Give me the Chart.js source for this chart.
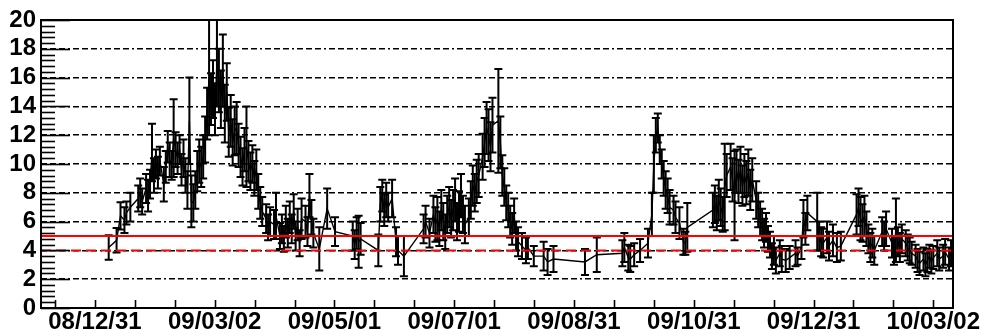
<!DOCTYPE html>
<html>
<head>
<meta charset="utf-8">
<script src="https://cdn.jsdelivr.net/npm/chart.js@4.4.1/dist/chart.umd.min.js"></script>
<style>
  html, body { margin: 0; padding: 0; background: #fff; }
  #wrap { width: 984px; height: 336px; }
</style>
</head>
<body>
<div id="wrap"><canvas id="c" width="984" height="336"></canvas></div>
<script>
// Measurement days, counted from 2008-12-31
const days = [
  7, 11, 13, 15, 16, 18, 22, 23, 24, 26, 27, 28, 29, 30, 31, 32, 33, 35, 36, 37,
  38, 39, 40, 41, 42, 43, 44, 45, 46, 47, 48, 49, 50, 51, 52, 53, 54, 55, 56, 57,
  58, 59, 60, 61, 62, 63, 64, 65, 66, 67, 68, 69, 70, 71, 72, 73, 74, 75, 76, 77,
  78, 79, 80, 81, 82, 83, 84, 85, 87, 88, 89, 91, 92, 94, 95, 96, 97, 98, 99, 100,
  101, 102, 103, 104, 105, 107, 108, 109, 110, 111, 114, 118, 122, 131, 132, 133, 134, 135, 144, 145,
  146, 147, 148, 149, 151, 153, 154, 157, 167, 168, 170, 172, 173, 174, 175, 176, 177, 178, 179, 180,
  181, 182, 183, 184, 185, 186, 187, 188, 190, 191, 192, 193, 194, 195, 197, 198, 199, 200, 201, 202,
  205, 206, 207, 208, 209, 210, 211, 212, 213, 214, 215, 217, 219, 220, 223, 228, 230, 233, 249, 255,
  268, 269, 271, 272, 274, 277, 281, 283, 284, 285, 286, 287, 288, 289, 290, 291, 292, 294, 295, 297,
  299, 300, 301, 314, 315, 316, 317, 318, 319, 320, 321, 323, 324, 325, 326, 327, 328, 329, 330, 331,
  332, 333, 334, 336, 337, 338, 339, 340, 341, 342, 343, 344, 345, 346, 348, 349, 351, 353, 356, 357,
  359, 360, 361, 362, 367, 368, 369, 370, 372, 373, 375, 377, 379, 387, 388, 389, 390, 391, 392, 393,
  394, 395, 396, 400, 401, 402, 405, 406, 407, 408, 409, 410, 412, 413, 414, 415, 417, 418, 419, 421,
  422, 423, 424, 425, 426, 428, 429, 431, 432, 434, 435
];

// Daily rate
const values = [
  4.2, 4.7, 6.4, 6.1, 6.6, 7.0, 7.6, 8.0, 7.4, 8.3, 7.8, 8.6, 10.8, 9.2, 10.0, 9.4, 10.2, 8.6, 9.8, 11.2,
  10.3, 9.9, 11.8, 11.0, 10.4, 11.0, 9.6, 10.4, 9.2, 8.2, 13.0, 7.4, 7.3, 8.2, 9.5, 10.2, 9.8, 10.5, 11.7, 13.5,
  16.0, 14.5, 15.2, 13.8, 17.0, 15.8, 14.5, 16.5, 13.5, 15.0, 12.2, 13.0, 11.5, 12.3, 12.5, 11.3, 10.5, 9.8, 11.0, 11.2,
  10.2, 9.5, 10.0, 9.0, 9.6, 8.1, 7.3, 6.7, 6.2, 5.6, 6.0, 5.8, 6.4, 5.0, 5.5, 4.8, 6.0, 5.2, 6.3, 5.5,
  6.7, 5.0, 5.8, 4.5, 6.2, 6.0, 5.3, 7.8, 6.3, 5.2, 4.1, 6.9, 5.3, 5.0, 4.4, 5.2, 4.6, 4.8, 4.0, 7.2,
  7.8, 6.8, 7.5, 7.0, 7.6, 4.6, 4.0, 3.6, 5.5, 6.0, 5.2, 6.5, 5.8, 6.2, 5.5, 6.8, 6.0, 5.3, 6.5, 7.0,
  6.2, 6.8, 7.5, 6.0, 6.7, 7.8, 6.5, 5.8, 6.3, 7.5, 8.5, 8.0, 8.8, 9.2, 10.5, 11.5, 12.5, 12.0, 11.2, 12.7,
  13.0, 11.5, 9.2, 8.4, 7.3, 6.8, 6.0, 5.5, 6.4, 5.0, 4.6, 4.3, 4.0, 4.2, 3.6, 3.6, 3.2, 3.4, 3.2, 3.7,
  3.8, 4.2, 3.5, 3.4, 3.7, 4.0, 4.5, 6.5, 10.0, 12.0, 12.5, 11.0, 10.0, 9.0, 8.2, 7.8, 7.0, 6.8, 6.3, 5.9,
  4.6, 4.5, 5.6, 6.8, 7.2, 6.6, 7.5, 7.0, 6.5, 8.4, 9.2, 9.8, 8.9, 7.8, 9.5, 8.8, 9.6, 8.5, 9.2, 8.7,
  9.4, 8.2, 8.9, 7.5, 6.8, 6.2, 5.8, 5.2, 5.6, 4.8, 4.4, 3.6, 4.0, 3.3, 3.8, 3.4, 3.3, 3.5, 3.8, 3.6,
  4.2, 6.2, 5.5, 6.6, 6.0, 5.0, 4.6, 4.5, 4.9, 4.3, 4.7, 4.2, 4.3, 6.5, 7.0, 6.2, 5.9, 6.4, 5.5, 4.8,
  4.2, 4.5, 4.0, 5.3, 5.0, 5.5, 4.5, 4.0, 5.4, 4.6, 4.2, 4.8, 4.5, 4.2, 4.0, 3.8, 3.6, 3.3, 3.1, 3.4,
  3.0, 3.3, 3.6, 3.2, 3.5, 3.8, 3.4, 3.6, 3.9, 3.4, 3.8
];

// Statistical uncertainty of each value (symmetric)
const errors = [
  0.85, 0.85, 0.95, 0.9, 0.8, 1.0, 0.9, 1.0, 0.9, 1.0, 1.1, 1.0, 2.0, 1.2, 1.0, 1.1, 1.0, 1.2, 1.1, 1.1,
  1.2, 1.0, 2.7, 1.2, 1.1, 1.0, 1.1, 1.3, 1.2, 1.3, 3.0, 1.8, 1.3, 1.3, 1.4, 1.5, 1.4, 1.5, 1.6, 1.8,
  4.0, 1.8, 2.0, 1.8, 3.0, 2.2, 2.0, 2.5, 2.0, 2.0, 1.7, 1.8, 1.6, 1.7, 1.8, 1.5, 1.4, 1.3, 1.5, 2.8,
  1.4, 1.3, 1.3, 1.2, 1.4, 1.2, 1.1, 1.0, 1.0, 0.9, 1.0, 1.0, 1.6, 0.9, 1.0, 0.9, 1.1, 1.0, 1.1, 1.0,
  1.2, 1.0, 1.1, 0.9, 1.4, 1.1, 1.0, 1.5, 1.2, 1.0, 1.5, 1.4, 1.0, 1.0, 1.0, 1.1, 1.8, 1.1, 1.1, 1.2,
  1.1, 1.1, 1.2, 1.0, 1.3, 1.0, 1.0, 1.4, 1.0, 1.1, 1.0, 1.3, 1.2, 1.5, 1.2, 1.4, 1.3, 1.2, 1.3, 1.4,
  1.3, 1.4, 1.5, 1.3, 1.4, 1.5, 1.3, 1.3, 1.3, 1.3, 1.4, 1.3, 1.5, 1.5, 1.6, 1.7, 1.8, 1.8, 1.7, 1.9,
  3.6, 1.8, 1.4, 1.3, 1.2, 1.2, 1.1, 1.1, 1.2, 1.0, 1.0, 0.9, 0.9, 0.8, 0.7, 1.0, 0.9, 0.9, 0.9, 1.2,
  0.9, 1.0, 0.9, 0.9, 0.8, 0.8, 1.0, 1.5, 2.0, 1.2, 1.0, 1.0, 1.0, 1.2, 1.3, 1.2, 1.2, 1.0, 1.1, 1.1,
  0.9, 0.8, 1.7, 1.2, 1.3, 1.2, 1.4, 1.3, 1.2, 3.0, 1.5, 1.6, 1.5, 3.1, 1.5, 1.5, 1.6, 1.4, 1.5, 1.5,
  1.6, 1.4, 1.5, 1.3, 1.2, 1.2, 1.1, 1.0, 1.0, 0.9, 0.9, 0.9, 1.0, 0.9, 0.9, 0.9, 0.8, 0.8, 0.9, 0.6,
  0.8, 1.3, 1.1, 1.2, 2.0, 1.0, 1.0, 1.0, 1.1, 1.0, 1.1, 1.0, 1.0, 1.4, 1.3, 1.5, 1.3, 1.4, 1.2, 1.0,
  1.0, 1.0, 1.0, 1.0, 1.0, 1.2, 1.0, 1.0, 2.2, 1.0, 1.0, 1.0, 0.9, 0.9, 0.9, 0.8, 0.8, 0.8, 0.8, 0.8,
  0.8, 0.8, 0.8, 0.8, 0.8, 0.9, 0.8, 0.8, 0.9, 0.8, 0.9
];

// Date labels on the time axis (evenly spaced from 08/12/31 to 10/03/02)
const dateLabels = ['08/12/31', '09/03/02', '09/05/01', '09/07/01', '09/08/31', '09/10/31', '09/12/31', '10/03/02'];
const labelSpanDays = 426;

// Value axis labels
const yLabels = ['0', '2', '4', '6', '8', '10', '12', '14', '16', '18', '20'];

// Reference levels
const refSolid = 5.0;
const refDashed = 4.0;

const xMin = -27.4, xMax = 436.0;
const labelStep = labelSpanDays / (dateLabels.length - 1);
const FONT = { family: "'Liberation Sans', Arial, Helvetica, sans-serif", size: 24, weight: 'bold' };

const series = days.map((d, i) => ({ x: d, y: values[i] }));

// Error bars, frame and inward tick marks
const rootStyle = {
  id: 'rootStyle',
  beforeDatasetsDraw(chart) {
    const { ctx, chartArea: a, scales: { x, y } } = chart;
    ctx.save();
    ctx.beginPath();
    ctx.rect(a.left, a.top, a.right - a.left, a.bottom - a.top);
    ctx.clip();
    ctx.strokeStyle = '#000';
    ctx.lineWidth = 2;
    days.forEach((d, i) => {
      const px = x.getPixelForValue(d);
      const hi = y.getPixelForValue(values[i] + errors[i]);
      const lo = y.getPixelForValue(values[i] - errors[i]);
      ctx.beginPath();
      ctx.moveTo(px, hi); ctx.lineTo(px, lo);
      ctx.moveTo(px - 4, hi); ctx.lineTo(px + 4, hi);
      ctx.moveTo(px - 4, lo); ctx.lineTo(px + 4, lo);
      ctx.stroke();
    });
    ctx.restore();
  },
  afterDraw(chart) {
    const { ctx, chartArea: a, scales: { x, y } } = chart;
    ctx.save();
    ctx.strokeStyle = '#000';
    // value axis ticks, pointing into the frame
    ctx.lineWidth = 1.6;
    for (let k = 0; k <= 50; k++) {
      const v = k * 0.4;
      const py = Math.round(y.getPixelForValue(v)) + 0.5;
      const len = (k % 5 === 0) ? 29 : 14;
      ctx.beginPath();
      ctx.moveTo(a.left, py); ctx.lineTo(a.left + len, py);
      ctx.stroke();
    }
    // time axis ticks
    const sub = labelStep / 3;
    for (let k = Math.ceil(xMin / sub); k * sub <= xMax; k++) {
      const px = Math.round(x.getPixelForValue(k * sub)) + 0.5;
      ctx.beginPath();
      ctx.moveTo(px, a.bottom); ctx.lineTo(px, a.bottom - 8);
      ctx.stroke();
    }
    // frame
    ctx.lineWidth = 2;
    ctx.strokeRect(a.left, a.top, a.right - a.left, a.bottom - a.top);
    ctx.restore();
  }
};

new Chart(document.getElementById('c'), {
  type: 'line',
  data: {
    datasets: [
      {
        data: [{ x: xMin, y: refSolid }, { x: xMax, y: refSolid }],
        borderColor: '#ff0000', borderWidth: 2, pointRadius: 0, order: 0
      },
      {
        data: [{ x: xMin, y: refDashed }, { x: xMax, y: refDashed }],
        borderColor: '#ff0000', borderWidth: 2, borderDash: [10, 5], pointRadius: 0, order: 0
      },
      {
        data: series,
        borderColor: '#000', borderWidth: 1.4, pointRadius: 0, tension: 0, order: 1
      }
    ]
  },
  options: {
    responsive: false,
    animation: false,
    events: [],
    layout: { padding: { left: 0, top: 20, right: 31, bottom: 0 } },
    plugins: { legend: { display: false }, tooltip: { enabled: false }, title: { display: false } },
    scales: {
      x: {
        type: 'linear',
        min: xMin,
        max: xMax,
        afterFit(s) { s.height = 28; },
        afterBuildTicks(s) { s.ticks = dateLabels.map((_, i) => ({ value: i * labelStep })); },
        ticks: {
          callback: (v, i) => dateLabels[i],
          font: FONT, color: '#000', padding: 0, maxRotation: 0, autoSkip: false
        },
        grid: { display: false, drawTicks: false },
        border: { display: false }
      },
      y: {
        min: 0,
        max: 20,
        afterFit(s) { s.width = 41; },
        afterBuildTicks(s) { s.ticks = yLabels.map(t => ({ value: Number(t) })); },
        ticks: {
          callback: (v, i) => yLabels[i],
          font: FONT, color: '#000', padding: 5, autoSkip: false
        },
        grid: {
          drawTicks: false,
          lineWidth: 1.5,
          color: ctx => (ctx.tick && (ctx.tick.value === 0 || ctx.tick.value === 20)) ? 'rgba(0,0,0,0)' : '#000'
        },
        border: { display: false, dash: [6, 3, 6, 3, 6, 3, 2, 3] }
      }
    }
  },
  plugins: [rootStyle]
});
</script>
</body>
</html>
